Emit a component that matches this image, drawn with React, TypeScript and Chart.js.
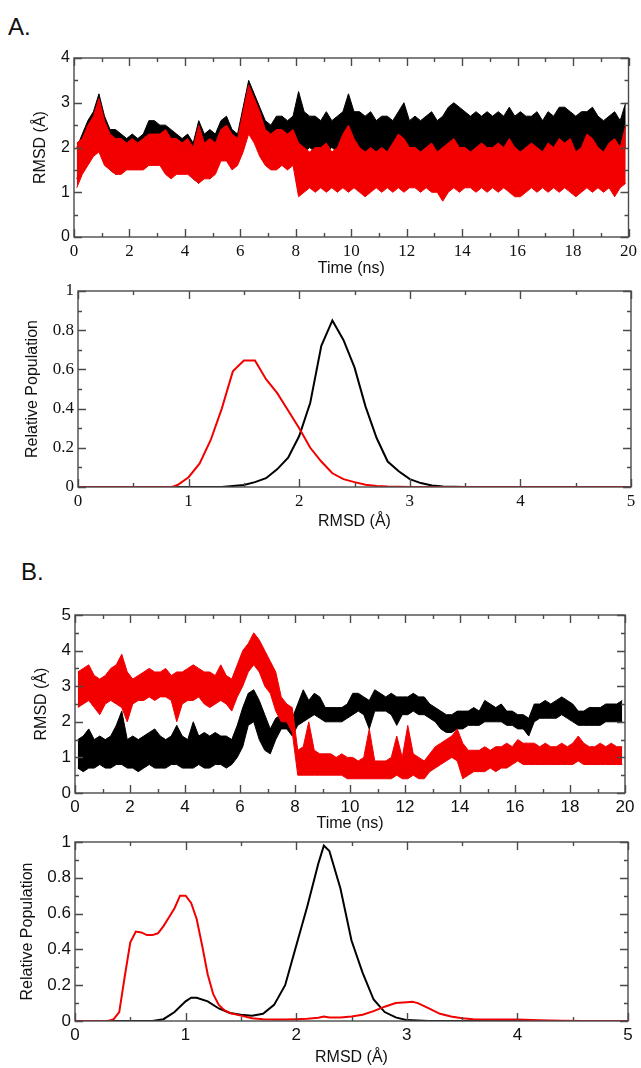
import React, { useEffect, useRef } from "react";
import { Chart, registerables } from "chart.js";

Chart.register(...registerables);

// ---------- tick labels ----------
const TIME_TICKS = [0, 2, 4, 6, 8, 10, 12, 14, 16, 18, 20];
const RMSD_A_TICKS = [0, 1, 2, 3, 4];
const RMSD_B_TICKS = [0, 1, 2, 3, 4, 5];
const POP_TICKS = [0, 0.2, 0.4, 0.6, 0.8, 1];
const HIST_TICKS = [0, 1, 2, 3, 4, 5];

// ---------- time series (0.2 ns bins, low / high envelope of the trace) ----------
const TIME_BINS = Array.from({ length: 100 }, (_, i) => +(i * 0.2).toFixed(1));

const A_BLACK_HI = [
  2.0, 2.3, 2.6, 2.8, 3.2, 2.7, 2.4, 2.4, 2.3, 2.2,
  2.3, 2.2, 2.3, 2.6, 2.6, 2.5, 2.5, 2.4, 2.3, 2.2,
  2.3, 2.1, 2.6, 2.3, 2.4, 2.3, 2.6, 2.7, 2.4, 2.3,
  2.9, 3.5, 3.2, 2.9, 2.6, 2.5, 2.7, 2.7, 2.6, 2.7,
  3.25, 2.8, 2.7, 2.7, 2.6, 2.8, 2.6, 2.7, 2.8, 3.2,
  2.8, 2.8, 2.7, 2.8, 2.6, 2.7, 2.7, 2.6, 2.8, 3.0,
  2.6, 2.7, 2.6, 2.7, 2.8, 2.6, 2.7, 2.9, 3.0, 2.9,
  2.8, 2.7, 2.8, 2.7, 2.8, 2.7, 2.8, 2.7, 2.9, 2.7,
  2.8, 2.7, 2.7, 2.8, 2.6, 2.8, 2.7, 2.9, 2.9, 2.8,
  2.7, 2.8, 2.8, 2.9, 2.7, 2.6, 2.7, 2.8, 2.6, 3.0,
];
const A_BLACK_LO = [
  1.3, 1.6, 1.8, 2.0, 2.1, 1.8, 1.5, 1.4, 1.6, 1.6,
  1.6, 1.7, 1.7, 1.8, 1.9, 1.8, 1.5, 1.4, 1.5, 1.5,
  1.5, 1.3, 1.2, 1.4, 1.3, 1.5, 1.8, 1.8, 1.6, 1.7,
  2.0, 2.4, 2.2, 1.9, 1.7, 1.6, 1.6, 1.7, 1.6, 1.7,
  1.7, 1.9, 2.0, 1.9, 2.0, 1.9, 2.0, 1.9, 2.0, 2.0,
  2.0, 1.9, 1.8, 2.0, 1.9, 2.0, 1.9, 2.0, 1.9, 2.0,
  1.9, 2.0, 1.9, 2.0, 1.9, 1.9, 1.7, 1.9, 2.0, 1.9,
  2.0, 1.9, 2.0, 1.9, 2.0, 1.9, 2.0, 2.0, 1.9, 2.0,
  1.9, 2.0, 1.9, 2.0, 1.9, 2.0, 1.9, 2.0, 2.0, 1.9,
  1.8, 1.9, 2.0, 1.9, 2.0, 1.9, 1.9, 2.0, 1.9, 2.0,
];
const A_RED_HI = [
  2.1, 2.2, 2.5, 2.7, 3.1, 2.6, 2.3, 2.2, 2.2, 2.1,
  2.2, 2.1, 2.2, 2.3, 2.3, 2.3, 2.4, 2.2, 2.2, 2.1,
  2.2, 2.0, 2.5, 2.1, 2.2, 2.1, 2.4, 2.5, 2.3, 2.2,
  2.8, 3.4, 3.1, 2.8, 2.4, 2.3, 2.4, 2.4, 2.3, 2.4,
  2.1, 2.0, 1.9, 2.0, 2.0, 2.1, 1.9, 2.0, 2.3, 2.5,
  2.2, 2.0, 1.9, 2.0, 1.9, 2.0, 1.9, 2.1, 2.3, 2.2,
  2.0, 2.0, 1.9, 2.0, 2.1, 1.9, 2.0, 2.1, 2.2, 2.0,
  2.0, 1.9, 2.0, 2.1, 2.0, 2.0, 2.1, 2.0, 2.2, 2.0,
  1.9, 2.0, 2.1, 2.0, 1.9, 2.1, 2.0, 2.2, 2.1, 2.2,
  1.9, 2.0, 2.3, 2.2, 2.0, 1.9, 2.1, 2.2, 2.0, 2.5,
];
const A_RED_LO = [
  1.1, 1.4, 1.6, 1.8, 1.9, 1.6, 1.5, 1.4, 1.4, 1.5,
  1.5, 1.5, 1.5, 1.6, 1.6, 1.6, 1.4, 1.3, 1.4, 1.4,
  1.4, 1.3, 1.2, 1.3, 1.3, 1.4, 1.7, 1.7, 1.5, 1.6,
  1.9, 2.3, 2.1, 1.8, 1.6, 1.5, 1.5, 1.6, 1.5, 1.6,
  0.9, 1.0, 1.1, 1.0, 1.1, 1.0, 1.1, 1.0, 1.1, 1.0,
  1.1, 1.0, 0.9, 1.0, 1.1, 1.0, 1.1, 1.0, 1.1, 1.0,
  1.1, 1.1, 1.0, 1.1, 1.0, 1.0, 0.8, 1.0, 1.1, 1.0,
  1.1, 1.1, 1.0, 1.1, 1.0, 1.1, 1.0, 1.1, 1.0, 0.9,
  0.9, 1.0, 1.1, 1.0, 1.1, 1.0, 1.1, 1.0, 1.1, 1.0,
  0.9, 1.0, 1.1, 1.0, 1.1, 1.0, 1.1, 0.9, 1.1, 1.2,
];

const B_BLACK_HI = [
  1.5, 1.6, 1.8, 1.5, 1.6, 1.5, 1.6, 1.9, 2.3, 1.5,
  1.6, 1.5, 1.6, 1.7, 1.8, 1.6, 1.5, 1.6, 1.9, 1.6,
  1.5, 2.0, 1.6, 1.7, 1.6, 1.7, 1.6, 1.6, 1.5, 1.9,
  2.4, 2.8, 2.9, 2.6, 2.2, 1.8, 2.1, 2.2, 2.2, 2.1,
  2.5, 2.9, 2.6, 2.8, 2.7, 2.4, 2.4, 2.4, 2.4, 2.5,
  2.8, 2.8, 2.7, 2.6, 2.9, 2.8, 2.7, 2.8, 2.7, 2.7,
  2.7, 2.8, 2.7, 2.7, 2.5, 2.4, 2.3, 2.2, 2.2, 2.3,
  2.3, 2.3, 2.4, 2.3, 2.6, 2.5, 2.4, 2.5, 2.3, 2.3,
  2.2, 2.2, 2.1, 2.5, 2.5, 2.6, 2.5, 2.6, 2.7, 2.6,
  2.5, 2.3, 2.3, 2.4, 2.4, 2.4, 2.5, 2.5, 2.5, 2.6,
];
const B_BLACK_LO = [
  0.7, 0.6, 0.7, 0.7, 0.8, 0.7, 0.7, 0.8, 0.8, 0.7,
  0.7, 0.6, 0.7, 0.8, 0.7, 0.7, 0.7, 0.8, 0.8, 0.7,
  0.7, 0.7, 0.8, 0.7, 0.7, 0.8, 0.8, 0.7, 0.8, 1.0,
  1.3, 1.9, 2.0, 1.5, 1.2, 1.1, 1.5, 1.8, 1.8, 1.6,
  1.9, 2.0, 2.1, 2.2, 2.1, 2.0, 2.0, 2.0, 2.0, 2.1,
  2.2, 2.3, 2.2, 1.8, 2.3, 2.3, 2.3, 2.2, 1.9, 2.2,
  2.2, 2.3, 2.2, 2.2, 2.1, 2.0, 1.8, 1.7, 1.7, 1.8,
  1.8, 1.9, 1.9, 1.9, 2.0, 2.0, 2.0, 2.0, 1.9, 1.9,
  1.8, 1.8, 1.6, 2.0, 2.1, 2.1, 2.1, 2.1, 2.2, 2.1,
  2.0, 1.9, 1.9, 1.9, 1.9, 1.9, 2.0, 2.0, 2.0, 2.0,
];
const B_RED_HI = [
  3.4, 3.5, 3.6, 3.3, 3.2, 3.3, 3.5, 3.6, 3.9, 3.4,
  3.2, 3.3, 3.4, 3.5, 3.4, 3.4, 3.5, 3.3, 3.4, 3.4,
  3.5, 3.6, 3.5, 3.4, 3.4, 3.3, 3.6, 3.3, 3.2, 3.6,
  4.0, 4.2, 4.5, 4.3, 4.0, 3.7, 3.4, 2.7, 2.5, 2.4,
  1.2, 1.3, 2.0, 1.2, 1.1, 1.1, 1.1, 1.0, 1.1, 1.0,
  1.0, 0.9, 1.0, 1.8, 0.9, 0.9, 0.9, 1.0, 1.6, 1.0,
  1.9, 1.1, 1.0, 0.9, 1.1, 1.3, 1.4, 1.5, 1.6, 1.8,
  1.4, 1.2, 1.2, 1.2, 1.3, 1.2, 1.3, 1.3, 1.4, 1.3,
  1.5, 1.4, 1.4, 1.4, 1.3, 1.4, 1.3, 1.3, 1.4, 1.3,
  1.4, 1.6, 1.4, 1.3, 1.3, 1.4, 1.3, 1.4, 1.3, 1.3,
];
const B_RED_LO = [
  2.4, 2.5, 2.6, 2.4, 2.2, 2.5, 2.6, 2.5, 2.4, 2.0,
  2.5, 2.6, 2.6, 2.7, 2.6, 2.7, 2.7, 2.6, 2.0, 2.5,
  2.6, 2.6, 2.7, 2.5, 2.4, 2.5, 2.6, 2.5, 2.3, 2.7,
  3.0, 3.4, 3.6, 3.4, 3.0, 2.8, 2.3, 2.0, 2.0, 1.7,
  0.5, 0.5, 0.5, 0.5, 0.5, 0.5, 0.5, 0.5, 0.5, 0.4,
  0.4, 0.4, 0.4, 0.4, 0.4, 0.4, 0.4, 0.4, 0.5, 0.4,
  0.4, 0.5, 0.4, 0.4, 0.6, 0.7, 0.8, 0.9, 1.0, 0.9,
  0.4, 0.5, 0.6, 0.6, 0.6, 0.7, 0.6, 0.7, 0.7, 0.8,
  0.9, 0.8, 0.8, 0.8, 0.8, 0.8, 0.8, 0.8, 0.8, 0.8,
  0.8, 0.9, 0.8, 0.8, 0.8, 0.8, 0.8, 0.8, 0.8, 0.8,
];

// ---------- population distributions ----------
const HA_RED_X = [0, 0.85, 0.9, 1.0, 1.1, 1.2, 1.3, 1.4, 1.5, 1.6, 1.7, 1.8, 1.9, 2.0, 2.1, 2.2, 2.3, 2.4, 2.5, 2.6, 2.7, 2.8, 2.9, 3.0, 5];
const HA_RED_Y = [0, 0, 0.01, 0.05, 0.12, 0.24, 0.4, 0.59, 0.645, 0.645, 0.55, 0.48, 0.39, 0.3, 0.2, 0.13, 0.07, 0.04, 0.025, 0.012, 0.005, 0.002, 0.001, 0, 0];
const HA_BLACK_X = [0, 1.3, 1.4, 1.5, 1.6, 1.7, 1.8, 1.9, 2.0, 2.1, 2.2, 2.3, 2.4, 2.5, 2.6, 2.7, 2.8, 2.9, 3.0, 3.1, 3.2, 3.3, 3.5, 5];
const HA_BLACK_Y = [0, 0, 0.005, 0.01, 0.025, 0.045, 0.09, 0.15, 0.26, 0.43, 0.72, 0.85, 0.75, 0.61, 0.41, 0.25, 0.13, 0.08, 0.04, 0.02, 0.008, 0.003, 0, 0];

const HB_RED_X = [0, 0.3, 0.35, 0.4, 0.45, 0.5, 0.55, 0.6, 0.65, 0.7, 0.75, 0.8, 0.85, 0.9, 0.95, 1.0, 1.05, 1.1, 1.15, 1.2, 1.25, 1.3, 1.35, 1.4, 1.5, 1.6, 1.7, 1.8, 1.9, 2.0, 2.1, 2.2, 2.25, 2.3, 2.4, 2.5, 2.6, 2.7, 2.8, 2.9, 3.0, 3.05, 3.1, 3.2, 3.3, 3.4, 3.5, 3.6, 3.8, 4.0, 4.2, 4.4, 4.6, 5];
const HB_RED_Y = [0, 0, 0.01, 0.05, 0.25, 0.44, 0.5, 0.495, 0.48, 0.48, 0.49, 0.53, 0.58, 0.63, 0.7, 0.7, 0.66, 0.57, 0.42, 0.26, 0.15, 0.09, 0.06, 0.045, 0.03, 0.015, 0.01, 0.008, 0.008, 0.01, 0.012, 0.018, 0.025, 0.02, 0.02, 0.025, 0.035, 0.055, 0.08, 0.1, 0.105, 0.108, 0.1, 0.07, 0.04, 0.025, 0.015, 0.01, 0.008, 0.008, 0.004, 0.001, 0, 0];
const HB_BLACK_X = [0, 0.7, 0.8, 0.9, 1.0, 1.05, 1.1, 1.2, 1.3, 1.4, 1.5, 1.6, 1.7, 1.8, 1.9, 2.0, 2.1, 2.2, 2.25, 2.3, 2.4, 2.5, 2.6, 2.7, 2.8, 2.9, 3.0, 3.2, 5];
const HB_BLACK_Y = [0, 0, 0.01, 0.05, 0.11, 0.13, 0.13, 0.11, 0.07, 0.045, 0.035, 0.03, 0.04, 0.09, 0.2, 0.42, 0.64, 0.88, 0.98, 0.95, 0.74, 0.45, 0.27, 0.12, 0.05, 0.02, 0.005, 0, 0];

// ---------- helpers ----------
const RED = "#f20000";
const BLACK = "#000000";
const FRAME = "#4a4a4a";
const SANS = "'Liberation Sans', Arial, sans-serif";
const SERIF = "'Liberation Serif', 'Times New Roman', serif";

function series(vals: number[]) {
  return TIME_BINS.map((t, i) => ({ x: t + 0.1, y: vals[i] }));
}
function curve(xs: number[], ys: number[]) {
  return xs.map((x, i) => ({ x, y: ys[i] }));
}
function minors(ticks: number[]) {
  const m: number[] = [];
  for (let i = 0; i < ticks.length - 1; i++) m.push((ticks[i] + ticks[i + 1]) / 2);
  return m;
}
// a trace drawn as the filled band between its low and high envelopes;
// lower "order" is painted on top (red above black, as in the reference)
function bandDatasets(lo: number[], hi: number[], color: string, order: number) {
  return [
    { data: series(lo), borderColor: color, borderWidth: 1, pointRadius: 0, fill: false, order },
    { data: series(hi), borderColor: color, borderWidth: 1, pointRadius: 0, fill: "-1", backgroundColor: color, order },
  ];
}
const lineDs = (data: any[], color: string, width: number, order: number) => ({
  data,
  borderColor: color,
  borderWidth: width,
  pointRadius: 0,
  fill: false,
  order,
});

const framePlugin = {
  id: "frame",
  afterDatasetsDraw(chart: any, _args: any, opts: any) {
    const { ctx, chartArea } = chart;
    const { left, right, top, bottom } = chartArea;
    const xs = chart.scales.x;
    const ys = chart.scales.y;
    ctx.save();
    ctx.strokeStyle = FRAME;
    ctx.lineWidth = 1.4;
    ctx.strokeRect(left, top, right - left, bottom - top);
    ctx.beginPath();
    const xt = (v: number, len: number) => {
      const p = Math.round(xs.getPixelForValue(v)) + 0.5;
      ctx.moveTo(p, bottom);
      ctx.lineTo(p, bottom - len);
      ctx.moveTo(p, top);
      ctx.lineTo(p, top + len);
    };
    const yt = (v: number, len: number) => {
      const p = Math.round(ys.getPixelForValue(v)) + 0.5;
      ctx.moveTo(left, p);
      ctx.lineTo(left + len, p);
      ctx.moveTo(right, p);
      ctx.lineTo(right - len, p);
    };
    opts.xTicks.forEach((v: number) => xt(v, 8));
    minors(opts.xTicks).forEach((v: number) => xt(v, 4));
    opts.yTicks.forEach((v: number) => yt(v, 8));
    minors(opts.yTicks).forEach((v: number) => yt(v, 4));
    ctx.stroke();
    ctx.restore();
  },
};

type PanelCfg = {
  top: number;
  plotTop: number;
  plotBottom: number;
  plotLeft: number;
  plotRight: number;
  xAxisH: number;
  yTitleCenter: number;
  xTitlePadBottom: number;
  xMax: number;
  yMax: number;
  xTicks: number[];
  yTicks: number[];
  xTitle: string;
  yTitle: string;
  xTickFont: any;
  yTickFont: any;
  datasets: any[];
};

const TITLE_FONT = { family: SANS, size: 16 };

function Panel({ cfg }: { cfg: PanelCfg }) {
  const ref = useRef<HTMLCanvasElement>(null);
  const height = cfg.plotBottom - cfg.top + cfg.xAxisH;
  useEffect(() => {
    const lh = TITLE_FONT.size * 1.2;
    const padLeft = cfg.yTitleCenter - lh / 2;
    const chart = new Chart(ref.current as HTMLCanvasElement, {
      type: "line",
      data: { datasets: cfg.datasets },
      plugins: [framePlugin],
      options: {
        animation: false,
        responsive: false,
        maintainAspectRatio: false,
        events: [],
        layout: {
          padding: {
            left: padLeft,
            right: 641 - cfg.plotRight,
            top: cfg.plotTop - cfg.top,
            bottom: 0,
          },
        },
        elements: { point: { radius: 0 }, line: { tension: 0 } },
        plugins: {
          legend: { display: false },
          tooltip: { enabled: false },
          filler: { propagate: false },
          // @ts-ignore
          frame: { xTicks: cfg.xTicks, yTicks: cfg.yTicks },
        },
        scales: {
          x: {
            type: "linear",
            min: 0,
            max: cfg.xMax,
            afterBuildTicks: (s: any) => {
              s.ticks = cfg.xTicks.map((v) => ({ value: v }));
            },
            afterFit: (s: any) => {
              s.height = cfg.xAxisH;
            },
            grid: { display: false, drawTicks: false },
            border: { display: false },
            ticks: {
              autoSkip: false,
              maxRotation: 0,
              padding: 4,
              color: "#111",
              font: cfg.xTickFont,
              callback: (v: any) => String(v),
            },
            title: {
              display: true,
              text: cfg.xTitle,
              color: "#111",
              font: TITLE_FONT,
              padding: { top: 0, bottom: cfg.xTitlePadBottom },
            },
          },
          y: {
            type: "linear",
            min: 0,
            max: cfg.yMax,
            afterBuildTicks: (s: any) => {
              s.ticks = cfg.yTicks.map((v) => ({ value: v }));
            },
            afterFit: (s: any) => {
              s.width = cfg.plotLeft - padLeft;
            },
            grid: { display: false, drawTicks: false },
            border: { display: false },
            ticks: {
              autoSkip: false,
              padding: 4,
              color: "#111",
              font: cfg.yTickFont,
              callback: (v: any) => String(v),
            },
            title: {
              display: true,
              text: cfg.yTitle,
              color: "#111",
              font: TITLE_FONT,
              padding: { top: 0, bottom: 0 },
            },
          },
        },
      } as any,
    });
    return () => chart.destroy();
  }, []);
  return (
    <canvas
      ref={ref}
      width={641}
      height={height}
      style={{ position: "absolute", left: 0, top: cfg.top, width: 641, height }}
    />
  );
}

const PANELS: PanelCfg[] = [
  {
    top: 40,
    plotTop: 58,
    plotBottom: 237,
    plotLeft: 74,
    plotRight: 631,
    xAxisH: 48,
    yTitleCenter: 41,
    xTitlePadBottom: 7,
    xMax: 20,
    yMax: 4,
    xTicks: TIME_TICKS,
    yTicks: RMSD_A_TICKS,
    xTitle: "Time (ns)",
    yTitle: "RMSD (Å)",
    xTickFont: { family: SERIF, size: 17 },
    yTickFont: { family: SANS, size: 16 },
    datasets: [...bandDatasets(A_BLACK_LO, A_BLACK_HI, BLACK, 1), ...bandDatasets(A_RED_LO, A_RED_HI, RED, 0)],
  },
  {
    top: 275,
    plotTop: 291,
    plotBottom: 487,
    plotLeft: 78,
    plotRight: 631,
    xAxisH: 53,
    yTitleCenter: 33,
    xTitlePadBottom: 9,
    xMax: 5,
    yMax: 1,
    xTicks: HIST_TICKS,
    yTicks: POP_TICKS,
    xTitle: "RMSD (Å)",
    yTitle: "Relative Population",
    xTickFont: { family: SERIF, size: 17 },
    yTickFont: { family: SERIF, size: 17 },
    datasets: [lineDs(curve(HA_BLACK_X, HA_BLACK_Y), BLACK, 2, 1), lineDs(curve(HA_RED_X, HA_RED_Y), RED, 2, 0)],
  },
  {
    top: 598,
    plotTop: 615,
    plotBottom: 793,
    plotLeft: 75,
    plotRight: 625,
    xAxisH: 45,
    yTitleCenter: 42,
    xTitlePadBottom: 5,
    xMax: 20,
    yMax: 5,
    xTicks: TIME_TICKS,
    yTicks: RMSD_B_TICKS,
    xTitle: "Time (ns)",
    yTitle: "RMSD (Å)",
    xTickFont: { family: SANS, size: 17 },
    yTickFont: { family: SANS, size: 17 },
    datasets: [...bandDatasets(B_BLACK_LO, B_BLACK_HI, BLACK, 1), ...bandDatasets(B_RED_LO, B_RED_HI, RED, 0)],
  },
  {
    top: 825,
    plotTop: 842,
    plotBottom: 1021,
    plotLeft: 75,
    plotRight: 628,
    xAxisH: 47,
    yTitleCenter: 28,
    xTitlePadBottom: 1,
    xMax: 5,
    yMax: 1,
    xTicks: HIST_TICKS,
    yTicks: POP_TICKS,
    xTitle: "RMSD (Å)",
    yTitle: "Relative Population",
    xTickFont: { family: SANS, size: 17 },
    yTickFont: { family: SANS, size: 17 },
    datasets: [lineDs(curve(HB_BLACK_X, HB_BLACK_Y), BLACK, 2, 1), lineDs(curve(HB_RED_X, HB_RED_Y), RED, 2, 0)],
  },
];

export default function App() {
  const letter: React.CSSProperties = {
    position: "absolute",
    fontFamily: SANS,
    fontSize: 24,
    lineHeight: "24px",
    color: "#111",
  };
  return (
    <div style={{ position: "absolute", left: 0, top: 0, width: 641, height: 1068, background: "#fff", overflow: "hidden" }}>
      <div style={{ ...letter, left: 8, top: 15 }}>A.</div>
      <div style={{ ...letter, left: 21, top: 560 }}>B.</div>
      {PANELS.map((p, i) => (
        <Panel key={i} cfg={p} />
      ))}
    </div>
  );
}
